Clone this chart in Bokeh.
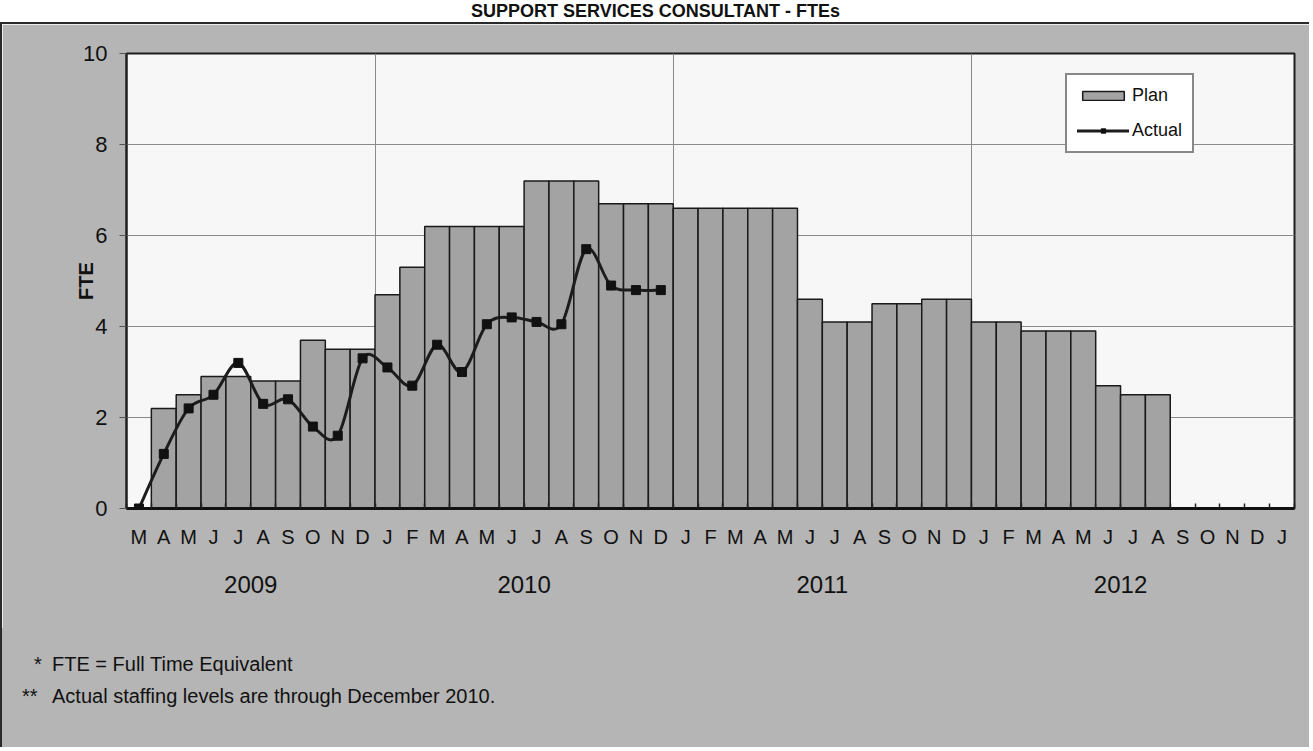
from bokeh.plotting import figure
from bokeh.models import FixedTicker, LinearAxis, Legend, LegendItem, Div, Range1d
from bokeh.layouts import column
from bokeh.embed import file_html
from bokeh.resources import INLINE

# ---------------- data ----------------
title_text = "SUPPORT SERVICES CONSULTANT - FTEs"
months = ["M", "A", "M", "J", "J", "A", "S", "O", "N", "D",
          "J", "F", "M", "A", "M", "J", "J", "A", "S", "O", "N", "D",
          "J", "F", "M", "A", "M", "J", "J", "A", "S", "O", "N", "D",
          "J", "F", "M", "A", "M", "J", "J", "A", "S", "O", "N", "D",
          "J"]
years = (["2009"] * 10 + ["2010"] * 12 + ["2011"] * 12 + ["2012"] * 12 + ["2013"])
year_labels = ["2009", "2010", "2011", "2012"]
plan = [0, 2.2, 2.5, 2.9, 2.9, 2.8, 2.8, 3.7, 3.5, 3.5,
        4.7, 5.3, 6.2, 6.2, 6.2, 6.2, 7.2, 7.2, 7.2, 6.7, 6.7, 6.7,
        6.6, 6.6, 6.6, 6.6, 6.6, 4.6, 4.1, 4.1, 4.5, 4.5, 4.6, 4.6,
        4.1, 4.1, 3.9, 3.9, 3.9, 2.7, 2.5, 2.5, 0, 0, 0, 0,
        0]
actual = [0, 1.2, 2.2, 2.5, 3.2, 2.3, 2.4, 1.8, 1.6, 3.3,
          3.1, 2.7, 3.6, 3.0, 4.05, 4.2, 4.1, 4.05, 5.7, 4.9, 4.8, 4.8]
y_ticks = [0, 2, 4, 6, 8, 10]
footnote1 = "FTE = Full Time Equivalent"
footnote2 = "Actual staffing levels are through December 2010."

FONT = "Liberation Sans"
BG = "#b5b5b5"
EDGE = "2px solid #2a2a2a"
n = len(months)
xs = [i + 0.5 for i in range(n)]

# ---------------- figure ----------------
p = figure(width=1309, height=606,
           x_range=Range1d(0, n), y_range=Range1d(0, 10),
           output_backend="svg", toolbar_location=None,
           min_border_left=124, min_border_right=17,
           min_border_top=29, min_border_bottom=122,
           background_fill_color="#f7f7f7", border_fill_color=BG,
           outline_line_color="#1e1e1e", outline_line_width=2)
p.styles = {"border-left": EDGE, "border-top": EDGE}

bars = p.vbar(x=xs, top=plan, bottom=0, width=1.0,
              fill_color="#a3a3a3", line_color="#1a1a1a", line_width=1.5)

# smoothed "Actual" line (Bezier segments through the data points)
ax = xs[:len(actual)]
m = len(actual)
seg = {k: [] for k in ("x0", "y0", "x1", "y1", "cx0", "cy0", "cx1", "cy1")}
for i in range(m - 1):
    a = max(i - 1, 0)
    d = min(i + 2, m - 1)
    seg["x0"].append(ax[i]); seg["y0"].append(actual[i])
    seg["x1"].append(ax[i + 1]); seg["y1"].append(actual[i + 1])
    seg["cx0"].append(ax[i] + (ax[i + 1] - ax[a]) / 6)
    seg["cy0"].append(actual[i] + (actual[i + 1] - actual[a]) / 6)
    seg["cx1"].append(ax[i + 1] - (ax[d] - ax[i]) / 6)
    seg["cy1"].append(actual[i + 1] - (actual[d] - actual[i]) / 6)
bez = p.bezier(line_color="#1c1c1c", line_width=3, line_cap="round", **seg)
pts = p.scatter(x=ax, y=actual, marker="square", size=9,
                fill_color="#111111", line_color="#111111")

# y axis
p.yaxis.ticker = FixedTicker(ticks=y_ticks)
p.yaxis.major_label_text_font = FONT
p.yaxis.major_label_text_font_size = "22px"
p.yaxis.major_label_text_color = "#111111"
p.yaxis.axis_line_width = 2
p.yaxis.axis_line_color = "#1e1e1e"
p.yaxis.major_tick_out = 7
p.yaxis.major_tick_in = 0
p.yaxis.major_tick_line_color = "#555555"
p.yaxis.minor_tick_line_color = None
p.yaxis.major_label_standoff = 12
p.yaxis.axis_label = "FTE"
p.yaxis.axis_label_text_font = FONT
p.yaxis.axis_label_text_font_size = "20px"
p.yaxis.axis_label_text_font_style = "bold"
p.yaxis.axis_label_text_color = "#111111"
p.yaxis.axis_label_standoff = -17

# x axis (months)
p.xaxis.ticker = FixedTicker(ticks=xs, minor_ticks=list(range(n + 1)))
p.xaxis.major_label_overrides = {x: mo for x, mo in zip(xs, months)}
p.xaxis.major_label_text_font = FONT
p.xaxis.major_label_text_font_size = "20px"
p.xaxis.major_label_text_color = "#111111"
p.xaxis.major_tick_line_color = None
p.xaxis.major_tick_out = 0
p.xaxis.major_tick_in = 0
p.xaxis.minor_tick_in = 5
p.xaxis.minor_tick_out = 0
p.xaxis.minor_tick_line_color = "#222222"
p.xaxis.minor_tick_line_width = 1.5
p.xaxis.axis_line_width = 3
p.xaxis.axis_line_color = "#111111"
p.xaxis.major_label_standoff = 17

# x axis (years)
year_centers = []
for yl in year_labels:
    idx = [i for i, y in enumerate(years) if y == yl]
    year_centers.append((idx[0] + idx[-1] + 1) / 2)
year_axis = LinearAxis(ticker=FixedTicker(ticks=year_centers),
                       major_label_overrides={c: yl for c, yl in zip(year_centers, year_labels)},
                       axis_line_color=None, major_tick_line_color=None,
                       minor_tick_line_color=None, major_tick_out=0, major_tick_in=0,
                       minor_tick_out=0, minor_tick_in=0,
                       major_label_text_font=FONT, major_label_text_font_size="24px",
                       major_label_text_color="#111111", major_label_standoff=25)
p.add_layout(year_axis, "below")

# grids
year_bounds = [i for i in range(1, n) if years[i] != years[i - 1] and years[i] in year_labels]
p.xgrid.ticker = FixedTicker(ticks=year_bounds)
p.xgrid.grid_line_color = "#8a8a8a"
p.xgrid.grid_line_width = 1
p.ygrid.ticker = FixedTicker(ticks=y_ticks[1:-1])
p.ygrid.grid_line_color = "#8a8a8a"
p.ygrid.grid_line_width = 1

# legend
legend = Legend(items=[LegendItem(label="Plan", renderers=[bars]),
                       LegendItem(label="Actual", renderers=[bez, pts])],
                location=(939, 355), orientation="vertical",
                border_line_color="#111111", border_line_width=2,
                background_fill_color="white", background_fill_alpha=1.0,
                label_text_font=FONT, label_text_font_size="18px",
                label_text_color="#111111",
                glyph_width=52, glyph_height=11, label_standoff=3,
                spacing=14, padding=10, margin=0)
p.add_layout(legend)

# ---------------- title and footnotes ----------------
title = Div(text=title_text, width=1311, height=22, margin=0,
            styles={"text-align": "center", "font-family": FONT, "font-weight": "bold",
                    "font-size": "18px", "line-height": "22px", "background": "white",
                    "color": "#111111"})

def note_line(mark, mark_left, text):
    return ('<div style="position:relative;height:32px;line-height:32px;white-space:nowrap;">'
            f'<span style="position:absolute;left:{mark_left}px;white-space:nowrap;">{mark}</span>'
            f'<span style="position:absolute;left:50px;white-space:nowrap;">{text}</span></div>')

notes_html = ('<div style="height:20px"></div>'
              + note_line("*", 32, footnote1)
              + note_line("**", 20, footnote2))
notes = Div(text=notes_html, width=1309, height=119, margin=0,
            styles={"background": BG, "border-left": EDGE, "font-family": FONT,
                    "font-size": "20px", "color": "#111111", "white-space": "nowrap"})

layout = column(title, p, notes)
open("out.html", "w").write(file_html(layout, INLINE))
